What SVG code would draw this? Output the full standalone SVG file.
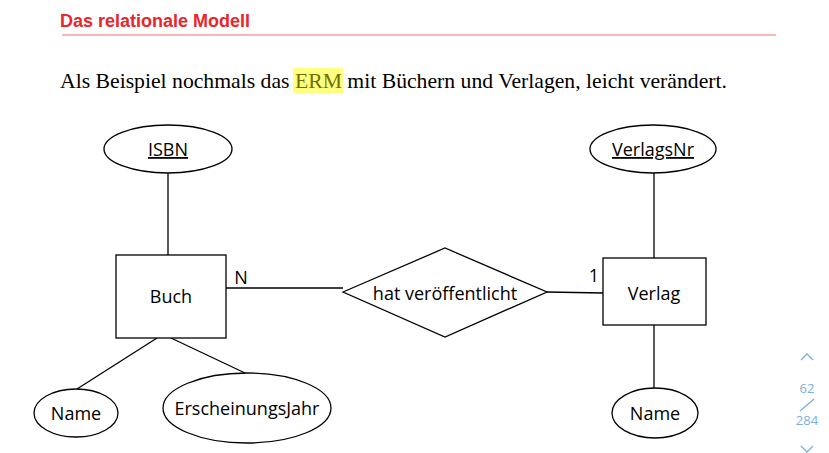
<svg xmlns="http://www.w3.org/2000/svg" width="829" height="453" viewBox="0 0 829 453">
<style>
.shape{fill:#fff;stroke:#000;stroke-width:1.3}
.conn line{stroke:#000;stroke-width:1.3}
.lbl{font-family:"Open Sans","Noto Sans",sans-serif;font-size:18px;fill:#000;text-anchor:middle}
.nav{font-family:"Open Sans","Noto Sans",sans-serif;font-size:13px;fill:#7ab0e0;text-anchor:middle}
</style>
<rect width="829" height="453" fill="#fff"/>
<text x="60" y="27" font-family="Liberation Sans, Arial, sans-serif" font-size="18" font-weight="bold" fill="#e8262b">Das relationale Modell</text>
<line x1="62" y1="35" x2="776" y2="35" stroke="#f07070" stroke-width="1.2"/>
<rect x="293" y="68" width="50" height="25" fill="#ffff80"/>
<text x="60" y="88" font-family="Liberation Serif, Times New Roman, serif" font-size="21.7" fill="#000">Als Beispiel nochmals das <tspan fill="#707000">ERM</tspan> mit Büchern und Verlagen, leicht verändert.</text>

<g id="connectors" class="conn">
<line x1="168" y1="173" x2="168" y2="255"/>
<line x1="226" y1="288" x2="343" y2="288"/>
<line x1="547" y1="292" x2="603" y2="293"/>
<line x1="654" y1="173" x2="654" y2="258"/>
<line x1="654" y1="325" x2="654" y2="389"/>
<line x1="157" y1="338" x2="77" y2="389"/>
<line x1="171" y1="338" x2="245" y2="373"/>
</g>

<g id="isbn">
<ellipse class="shape" cx="168" cy="149" rx="64" ry="24"/>
<text class="lbl" x="168" y="156" text-decoration="underline">ISBN</text>
</g>
<g id="buch">
<rect class="shape" x="116" y="255" width="110" height="83"/>
<text class="lbl" x="171" y="303">Buch</text>
<text class="lbl" x="241" y="284">N</text>
</g>
<g id="hat-veroeffentlicht">
<polygon class="shape" points="343,292 445,248 547,292 445,337"/>
<text class="lbl" x="445" y="300">hat veröffentlicht</text>
</g>
<g id="verlag">
<rect class="shape" x="603" y="258" width="103" height="67"/>
<text class="lbl" x="654" y="300">Verlag</text>
<text class="lbl" x="594" y="282">1</text>
</g>
<g id="verlagsnr">
<ellipse class="shape" cx="653" cy="149" rx="63" ry="24"/>
<text class="lbl" x="653" y="156" text-decoration="underline">VerlagsNr</text>
</g>
<g id="name-buch">
<ellipse class="shape" cx="76" cy="413" rx="42" ry="24"/>
<text class="lbl" x="76" y="420">Name</text>
</g>
<g id="erscheinungsjahr">
<ellipse class="shape" cx="247" cy="408" rx="84" ry="35"/>
<text class="lbl" x="247" y="415">ErscheinungsJahr</text>
</g>
<g id="name-verlag">
<ellipse class="shape" cx="655" cy="413" rx="43" ry="25"/>
<text class="lbl" x="655" y="420">Name</text>
</g>

<g id="nav">
<polyline points="801,360 807,354 813,360" fill="none" stroke="#7ab0e0" stroke-width="1.3"/>
<text class="nav" x="807" y="393">62</text>
<line x1="800" y1="411" x2="814" y2="399" stroke="#7ab0e0" stroke-width="1.3"/>
<text class="nav" x="807" y="425">284</text>
<polyline points="801,446 807,452 813,446" fill="none" stroke="#7ab0e0" stroke-width="1.3"/>
</g>
</svg>
